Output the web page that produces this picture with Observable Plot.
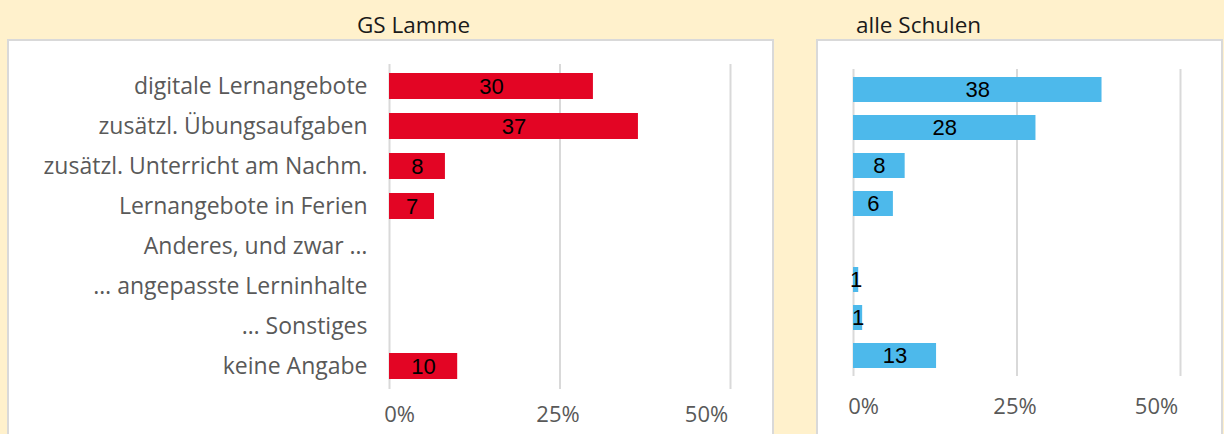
<!DOCTYPE html>
<html>
<head>
<meta charset="utf-8">
<script src="https://cdn.jsdelivr.net/npm/d3@7"></script>
<script src="https://cdn.jsdelivr.net/npm/@observablehq/plot@0.6"></script>
<style>
  html, body { margin: 0; padding: 0; }
  body { width: 1224px; height: 434px; background: #FFF1CC; position: relative; overflow: hidden; font-family: "Open Sans", sans-serif; }
  .box { position: absolute; background: #fff; border: 2px solid #d9d9d9; box-sizing: border-box; }
  .title { position: absolute; font-size: 22.5px; color: #1a1a1a; white-space: nowrap; }
  .chart { position: absolute; }
</style>
</head>
<body>
<div class="box" style="left:7px; top:39px; width:767px; height:420px;"></div>
<div class="box" style="left:816px; top:39px; width:407px; height:420px;"></div>
<div class="title" style="left:357px; top:9px;">GS Lamme</div>
<div class="title" style="left:856px; top:9px;">alle Schulen</div>
<div class="chart" id="left" style="left:7px; top:40px;"></div>
<div class="chart" id="right" style="left:817px; top:40px;"></div>
<script>
const categories = [
  "digitale Lernangebote",
  "zusätzl. Übungsaufgaben",
  "zusätzl. Unterricht am Nachm.",
  "Lernangebote in Ferien",
  "Anderes, und zwar …",
  "… angepasste Lerninhalte",
  "… Sonstiges",
  "keine Angabe"
];
const schoolValues = [29.9, 36.5, 8.2, 6.6, null, null, null, 10];
const allValues = [38, 27.9, 7.9, 6.1, null, 0.8, 1.4, 12.7];
const tickValues = [0, 25, 50];
const xDomain = [0, 50];

function rows(values) {
  return categories.map((c, i) => ({category: c, value: values[i]})).filter(d => d.value != null);
}

function chart(values, opts) {
  const data = rows(values);
  const tickOffsets = [10, -2, -24];
  return Plot.plot({
    width: opts.width,
    height: 394,
    marginLeft: opts.marginLeft,
    marginRight: opts.marginRight,
    marginTop: opts.marginTop,
    marginBottom: opts.marginBottom,
    style: {background: "none", fontFamily: "Open Sans, sans-serif", fontSize: "23px", color: "#595959", overflow: "visible"},
    x: {domain: xDomain, label: null, axis: null},
    y: {domain: categories, paddingInner: 0.34, paddingOuter: 0.17, label: null, axis: opts.showY ? "left" : null, tickSize: 0, tickPadding: 22},
    marks: [
      Plot.ruleX(tickValues, {stroke: "#d9d9d9", strokeWidth: 2}),
      Plot.barX(data, {y: "category", x: "value", fill: opts.color}),
      Plot.text(data, {y: "category", x: d => d.value / 2, text: d => String(Math.round(d.value)),
        fill: "black", fontFamily: "Liberation Sans, Arial, sans-serif", fontSize: 22, textAnchor: "middle"}),
      ...tickValues.map((t, i) => Plot.text([t], {x: d => d, text: d => d + "%", frameAnchor: "bottom",
        dy: opts.tickDy, dx: tickOffsets[i], fill: "#595959", fontSize: 22, fontFamily: "Open Sans, sans-serif"}))
    ]
  });
}

document.getElementById("left").append(chart(schoolValues, {
  width: 765, marginLeft: 382, marginRight: 42, marginTop: 24, marginBottom: 45,
  tickDy: 32, showY: true, color: "#E30524"
}));
document.getElementById("right").append(chart(allValues, {
  width: 405, marginLeft: 36, marginRight: 42, marginTop: 29, marginBottom: 58,
  tickDy: 37, showY: false, color: "#4DB9EB"
}));
</script>
</body>
</html>
